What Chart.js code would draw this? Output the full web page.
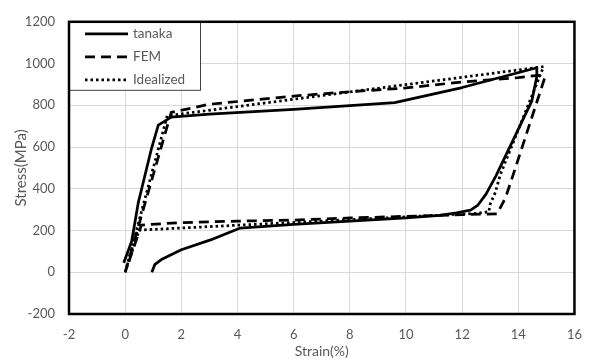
<!DOCTYPE html>
<html>
<head>
<meta charset="utf-8">
<script src="https://cdn.jsdelivr.net/npm/chart.js@4.4.1/dist/chart.umd.min.js"></script>
<style>
  html, body { margin: 0; padding: 0; background: #fff; }
  #wrap { width: 595px; height: 360px; }
</style>
</head>
<body>
<div id="wrap"><canvas id="ss" width="595" height="360"></canvas></div>
<script>
// axis ticks
const strainTicks = [-2, 0, 2, 4, 6, 8, 10, 12, 14, 16];
const stressTicks = [-200, 0, 200, 400, 600, 800, 1000, 1200];

// tanaka model loop (strain %, stress MPa)
const tanakaStrain = [-0.05, 0.23, 0.35, 0.47, 0.94, 1.18, 1.64, 3.0, 6.0, 9.6, 12.0, 14.66, 14.66, 14.48, 13.2, 12.85, 12.55, 12.3, 11.8, 11.2, 10.0, 8.0, 6.0, 4.1, 3.04, 2.0, 1.29, 1.06, 0.95];
const tanakaStress = [46, 147, 241, 335, 594, 705, 743, 758, 780, 813, 885, 980, 938, 820, 461, 374, 320, 298, 285, 273, 260, 245, 230, 212, 155, 108, 61, 38, 0];

// FEM loop
const femStrain = [0, 1.64, 3.0, 6.0, 8.0, 10.0, 12.0, 14.0, 14.7, 14.95, 13.78, 13.55, 13.25, 12.0, 10.0, 8.0, 6.0, 4.0, 2.0, 0.58, 0];
const femStress = [0, 766, 805, 844, 865, 883, 912, 933, 943, 935, 452, 359, 280, 276, 268, 260, 250, 245, 238, 226, 0];

// idealized loop
const idealStrain = [0, 1.5, 14.9, 13.36, 13.18, 13.0, 12.95, 12.5, 0.5, 0];
const idealStress = [0, 750, 985, 468, 382, 327, 290, 282, 202, 0];

const textGray = '#595959';
const fontFamily = 'Lato, "Liberation Sans", sans-serif';

function toPoints(xs, ys) {
    return xs.map((x, i) => ({ x: x, y: ys[i] }));
}

// frame round the plot and the boxed legend in its top-left corner
const boxLegend = {
    id: 'boxLegend',
    afterDraw(chart) {
        const ctx = chart.ctx;
        const a = chart.chartArea;
        const bx = a.left, by = a.top, bw = 131, bh = 68;
        ctx.save();
        ctx.fillStyle = '#fff';
        ctx.fillRect(bx, by, bw, bh);
        ctx.lineWidth = 1;
        ctx.strokeStyle = '#404040';
        ctx.strokeRect(bx + 0.5, by + 0.5, bw, bh);
        chart.data.datasets.forEach((ds, i) => {
            const y = by + 12 + i * 23;
            ctx.beginPath();
            ctx.setLineDash(ds.borderDash || []);
            ctx.lineWidth = ds.borderWidth;
            ctx.strokeStyle = ds.borderColor;
            ctx.moveTo(bx + 16, y);
            ctx.lineTo(bx + 59, y);
            ctx.stroke();
            ctx.setLineDash([]);
            ctx.fillStyle = textGray;
            ctx.font = '13.5px ' + fontFamily;
            ctx.textBaseline = 'middle';
            ctx.fillText(ds.label, bx + 64, y);
        });
        ctx.strokeStyle = '#000';
        ctx.lineWidth = 2.5;
        ctx.strokeRect(a.left, a.top, a.right - a.left, a.bottom - a.top);
        ctx.restore();
    }
};

const lineBase = { showLine: true, fill: false, pointRadius: 0, tension: 0, borderColor: '#000', borderWidth: 2.75, borderJoinStyle: 'round' };
const tickFont = { family: fontFamily, size: 13 };

new Chart(document.getElementById('ss').getContext('2d'), {
    type: 'scatter',
    data: {
        datasets: [
            Object.assign({ label: 'tanaka', data: toPoints(tanakaStrain, tanakaStress) }, lineBase),
            Object.assign({ label: 'FEM', data: toPoints(femStrain, femStress), borderDash: [10, 6] }, lineBase),
            Object.assign({ label: 'Idealized', data: toPoints(idealStrain, idealStress), borderDash: [2.5, 3] }, lineBase)
        ]
    },
    options: {
        responsive: false,
        animation: false,
        layout: { padding: { top: 16, right: 12, left: 0, bottom: 0 } },
        plugins: { legend: { display: false }, tooltip: { enabled: false } },
        scales: {
            x: {
                type: 'linear', min: -2, max: 16,
                afterBuildTicks: s => { s.ticks = strainTicks.map(v => ({ value: v })); },
                afterFit: s => { s.height = 46; },
                grid: { color: '#d9d9d9', lineWidth: 1, drawTicks: false },
                border: { display: false },
                ticks: { color: textGray, padding: 13, font: tickFont, callback: v => String(v) },
                title: { display: true, text: 'Strain(%)', color: textGray, padding: { top: 0, bottom: 0 }, font: { family: fontFamily, size: 14 } }
            },
            y: {
                type: 'linear', min: -200, max: 1200,
                afterBuildTicks: s => { s.ticks = stressTicks.map(v => ({ value: v })); },
                afterFit: s => { s.width = 69; },
                grid: { color: '#d9d9d9', lineWidth: 1, drawTicks: false },
                border: { display: false },
                ticks: { color: textGray, padding: 14, font: tickFont, callback: v => String(v) },
                title: { display: true, text: 'Stress(MPa)', color: textGray, padding: { top: 12, bottom: 0 }, font: { family: fontFamily, size: 15 } }
            }
        }
    },
    plugins: [boxLegend]
});
</script>
</body>
</html>
